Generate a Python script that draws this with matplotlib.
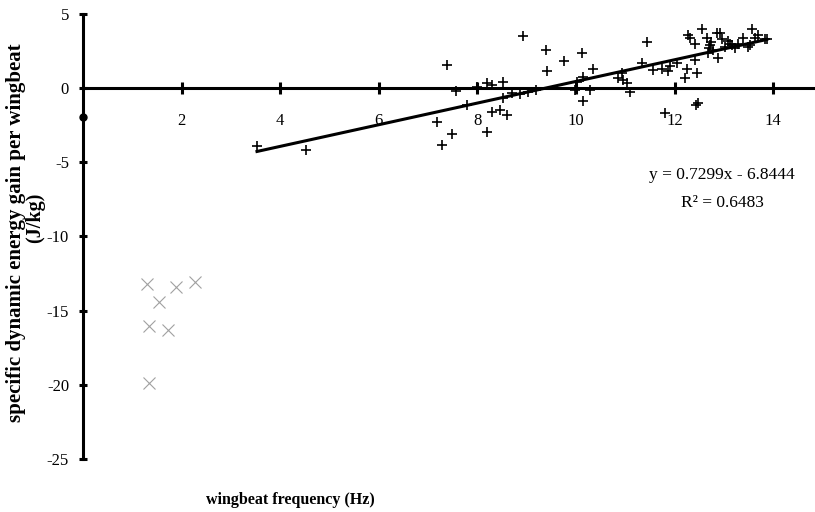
import matplotlib
matplotlib.use("Agg")
import matplotlib.pyplot as plt
import numpy as np

plt.rcParams['font.family'] = ['Liberation Serif', 'DejaVu Serif']
plt.rcParams['axes.unicode_minus'] = False

# wingbeat frequency (Hz) and specific dynamic energy gain (J/kg), main group
freq = [3.53, 4.52, 7.38, 7.57, 7.18, 7.48, 7.28, 7.79, 7.99, 8.19, 8.30, 8.52,
        8.30, 8.46, 8.60, 8.19, 8.52, 8.70, 8.86, 9.03, 9.20, 8.93, 9.39, 9.41,
        9.76, 10.12, 10.34, 10.14, 10.02, 9.98, 10.28, 10.14, 10.85, 10.93, 10.95,
        11.03, 11.10, 11.44, 11.34, 11.56, 11.74, 11.87, 11.90, 12.05, 12.21, 12.25,
        12.41, 12.45, 12.48, 12.43, 11.80, 12.27, 12.56, 12.31, 12.41, 12.66, 12.86,
        12.96, 12.72, 12.78, 12.68, 13.08, 13.16, 13.29, 13.39, 13.57, 13.63, 13.83,
        13.49, 12.88, 13.02, 13.22, 13.87, 13.69, 13.53, 12.75, 12.70, 12.92, 13.12]
gain = [-3.9, -4.2, 1.54, -0.2, -2.3, -3.1, -3.8, -1.14, 0.07, 0.33, 0.2, 0.4,
        -1.6, -1.5, -1.8, -2.95, -0.67, -0.33, -0.4, -0.27, -0.13, 3.5, 2.55, 1.14,
        1.8, 2.4, 1.27, 0.74, 0.4, -0.13, -0.13, -0.87, 0.67, 1.0, 0.55,
        0.33, -0.27, 3.1, 1.67, 1.2, 1.3, 1.15, 1.5, 1.67, 0.67, 1.3,
        1.9, 1.0, -1.0, -1.14, -1.7, 3.56, 4.0, 3.4, 3.0, 3.4, 3.7,
        3.3, 2.9, 2.55, 2.4, 3.2, 2.9, 3.0, 3.4, 4.0, 3.4, 3.3,
        2.75, 2.0, 2.75, 2.7, 3.3, 3.56, 2.9, 3.1, 2.7, 3.7, 3.0]

# low-frequency group (grey crosses)
freq_low = [1.30, 1.89, 2.27, 1.54, 1.34, 1.72, 1.34]
gain_low = [-13.2, -13.4, -13.1, -14.4, -16.0, -16.3, -19.9]

# single point on the axis
freq_axis = [0.0]
gain_axis = [-1.95]

slope, intercept = 0.7299, -6.8444
r2 = 0.6483

fig = plt.figure(figsize=(8.15, 5.12), dpi=100)
ax = fig.add_axes([83 / 815, 53 / 512, 1 - 83 / 815, (459 - 14) / 512])

ax.plot(freq, gain, linestyle='none', marker='+', color='black',
        markersize=7.5, markeredgewidth=1.2, zorder=3)
ax.plot(freq_low, gain_low, linestyle='none', marker='x', color='#a0a0a0',
        markersize=8, markeredgewidth=0.8, zorder=3)
ax.plot(freq_axis, gain_axis, linestyle='none', marker='o', color='black',
        markersize=5, zorder=4, clip_on=False)

fx = np.array([min(freq), max(freq)])
ax.plot(fx, slope * fx + intercept, color='black', linewidth=2.2, zorder=4)

ax.set_xlim(0, 14.85)
ax.set_ylim(-25, 5)

for side in ['top', 'right']:
    ax.spines[side].set_visible(False)
ax.spines['bottom'].set_position(('data', 0))
ax.spines['bottom'].set_linewidth(2.2)
ax.spines['left'].set_linewidth(2.2)

ax.set_xticks([2, 4, 6, 8, 10, 12, 14])
ax.set_yticks([5, 0, -5, -10, -15, -20, -25])
ax.tick_params(axis='x', direction='inout', length=8, width=2.2, pad=14,
               labelsize=12)
ax.tick_params(axis='y', direction='inout', length=6, width=2.2, pad=7,
               labelsize=12)

fig.text(722 / 815, 1 - 175 / 512, f'y = {slope}x - {abs(intercept)}',
         ha='center', va='center', fontsize=12.5)
fig.text(722 / 815, 1 - 203 / 512, f'R\u00b2 = {r2}',
         ha='center', va='center', fontsize=12.5)

fig.text(290 / 815, 1 - 500 / 512, 'wingbeat frequency (Hz)',
         ha='center', va='center', fontsize=11.5, fontweight='bold')
fig.text(16 / 815, 1 - 233 / 512, 'specific dynamic energy gain per wingbeat',
         ha='center', va='center', rotation=90, fontsize=15, fontweight='bold')
fig.text(35 / 815, 1 - 218 / 512, '(J/kg)',
         ha='center', va='center', rotation=90, fontsize=14.5, fontweight='bold')

fig.savefig('out.png', dpi=100)
